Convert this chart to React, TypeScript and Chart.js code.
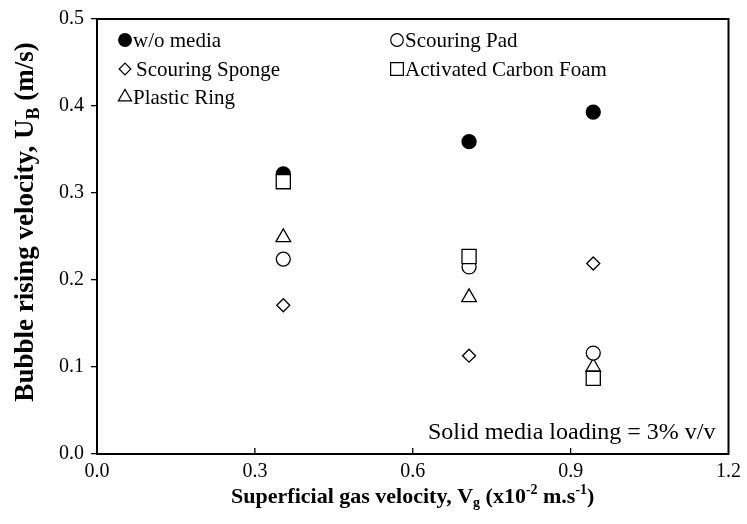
import React, { useEffect, useRef } from 'react';
import { Chart, registerables } from 'chart.js';
import { drawPoint } from 'chart.js/helpers';

Chart.register(...registerables);

// ---- data ----
const gasVelocity = [0.354, 0.707, 0.943];
const woMedia = [0.322, 0.359, 0.393];
const scouringPad = [0.224, 0.215, 0.116];
const scouringSponge = [0.171, 0.113, 0.219];
const activatedCarbonFoam = [0.313, 0.227, 0.087];
const plasticRing = [0.249, 0.18, 0.1];
const seriesNames = ['w/o media', 'Scouring Pad', 'Scouring Sponge', 'Activated Carbon Foam', 'Plastic Ring'];
const xTickValues = [0, 0.3, 0.6, 0.9, 1.2];
const yTickValues = [0, 0.1, 0.2, 0.3, 0.4, 0.5];
const annotationText = 'Solid media loading = 3% v/v';

const FONT = '"Liberation Serif", "Times New Roman", serif';

type Seg = { t: string; sub?: boolean; sup?: boolean };
const yTitle: Seg[] = [{ t: 'Bubble rising velocity, U' }, { t: 'B', sub: true }, { t: ' (m/s)' }];
const xTitle: Seg[] = [
  { t: 'Superficial gas velocity, V' },
  { t: 'g', sub: true },
  { t: ' (x10' },
  { t: '-2', sup: true },
  { t: ' m.s' },
  { t: '-1', sup: true },
  { t: ')' },
];

function drawRich(ctx: CanvasRenderingContext2D, segs: Seg[], cx: number, cy: number, size: number) {
  const main = `bold ${size}px ${FONT}`;
  const small = `bold ${Math.round(size * 0.65)}px ${FONT}`;
  let total = 0;
  for (const s of segs) {
    ctx.font = s.sub || s.sup ? small : main;
    total += ctx.measureText(s.t).width;
  }
  let x = cx - total / 2;
  ctx.textBaseline = 'middle';
  ctx.textAlign = 'left';
  for (const s of segs) {
    ctx.font = s.sub || s.sup ? small : main;
    const dy = s.sub ? size * 0.3 : s.sup ? -size * 0.3 : 0;
    ctx.fillText(s.t, x, cy + dy);
    x += ctx.measureText(s.t).width;
  }
}

const styles = [
  { pointStyle: 'circle', radius: 7, fill: '#000' },
  { pointStyle: 'circle', radius: 7, fill: '#fff' },
  { pointStyle: 'rectRot', radius: 6.5, fill: '#fff' },
  { pointStyle: 'rect', radius: 10, fill: '#fff' },
  { pointStyle: 'triangle', radius: 8.5, fill: '#fff' },
];

const framePlugin = {
  id: 'frameAndText',
  beforeDatasetsDraw(chart: any) {
    const { ctx, chartArea: a } = chart;
    ctx.save();
    ctx.strokeStyle = '#000';
    ctx.lineWidth = 2;
    ctx.strokeRect(a.left, a.top, a.right - a.left, a.bottom - a.top);
    // inward x ticks
    const xs = chart.scales.x;
    ctx.lineWidth = 1.3;
    for (const v of xTickValues.slice(1, -1)) {
      const px = xs.getPixelForValue(v);
      ctx.beginPath();
      ctx.moveTo(px, a.bottom);
      ctx.lineTo(px, a.bottom - 6);
      ctx.stroke();
    }
    ctx.restore();
  },
  afterDraw(chart: any) {
    const { ctx, chartArea: a } = chart;
    ctx.save();
    ctx.fillStyle = '#000';
    // axis titles
    drawRich(ctx, xTitle, (a.left + a.right) / 2, 497, 22);
    ctx.save();
    ctx.translate(26, 222);
    ctx.rotate(-Math.PI / 2);
    drawRich(ctx, yTitle, 0, 0, 27);
    ctx.restore();
    // annotation
    ctx.font = `24px ${FONT}`;
    ctx.textAlign = 'right';
    ctx.textBaseline = 'middle';
    ctx.fillText(annotationText, a.right - 13, 433);
    // legend
    const cols = [a.left + 28, a.left + 300];
    const rows = [a.top + 21, a.top + 50, a.top + 78];
    ctx.font = `21px ${FONT}`;
    ctx.textAlign = 'left';
    seriesNames.forEach((name, i) => {
      const col = cols[i % 2];
      const row = rows[Math.floor(i / 2)];
      const st = styles[i];
      ctx.fillStyle = st.fill;
      ctx.strokeStyle = '#000';
      ctx.lineWidth = 1.2;
      drawPoint(ctx, { pointStyle: st.pointStyle, radius: st.radius * 0.9, borderWidth: 1.2, rotation: 0 } as any, col, row);
      ctx.fillStyle = '#000';
      const gap = st.pointStyle === 'rectRot' ? 11 : 8;
      ctx.fillText(name, col + gap, row + 1);
    });
    ctx.restore();
  },
};

export default function App() {
  const ref = useRef<HTMLCanvasElement>(null);
  useEffect(() => {
    document.body.style.margin = '0';
    const seriesValues = [woMedia, scouringPad, scouringSponge, activatedCarbonFoam, plasticRing];
    const drawOrder = [4, 1, 3, 0, 2];
    const chart = new Chart(ref.current!, {
      type: 'scatter',
      data: {
        datasets: seriesNames.map((name, i) => ({
          label: name,
          data: gasVelocity.map((x, j) => ({ x, y: seriesValues[i][j] })),
          pointStyle: styles[i].pointStyle as any,
          pointRadius: styles[i].radius,
          pointHoverRadius: styles[i].radius,
          backgroundColor: styles[i].fill,
          borderColor: '#000',
          borderWidth: 1.3,
          order: drawOrder[i],
        })),
      },
      options: {
        responsive: false,
        animation: false,
        events: [],
        layout: { padding: { left: 0, right: 17, top: 17, bottom: 0 } },
        plugins: { legend: { display: false }, tooltip: { enabled: false } },
        scales: {
          x: {
            type: 'linear',
            min: 0,
            max: 1.2,
            afterBuildTicks: (s: any) => {
              s.ticks = xTickValues.map((v) => ({ value: v }));
            },
            afterFit: (s: any) => {
              s.height = 70;
            },
            grid: { display: false, drawTicks: false },
            border: { display: false },
            ticks: {
              padding: 6,
              color: '#000',
              font: { family: FONT, size: 20 },
              callback: (v: any) => Number(v).toFixed(1),
              maxRotation: 0,
            },
          },
          y: {
            type: 'linear',
            min: 0,
            max: 0.5,
            afterBuildTicks: (s: any) => {
              s.ticks = yTickValues.map((v) => ({ value: v }));
            },
            afterFit: (s: any) => {
              s.width = 97;
            },
            grid: { display: true, drawOnChartArea: false, drawTicks: true, tickLength: 6, color: '#000', lineWidth: 1.3 },
            border: { display: false },
            ticks: {
              padding: 7,
              color: '#000',
              font: { family: FONT, size: 20 },
              callback: (v: any) => Number(v).toFixed(1),
            },
          },
        },
      },
      plugins: [framePlugin],
    });
    return () => chart.destroy();
  }, []);
  return (
    <div style={{ width: 747, height: 524, background: '#fff' }}>
      <canvas ref={ref} width={747} height={524} />
    </div>
  );
}
